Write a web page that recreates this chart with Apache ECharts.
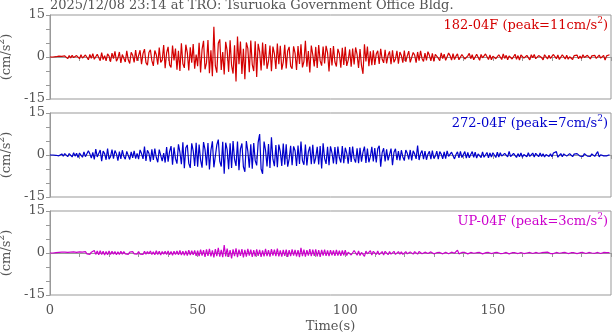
<!DOCTYPE html>
<html>
<head>
<meta charset="utf-8">
<script src="https://cdn.jsdelivr.net/npm/echarts@6/dist/echarts.min.js"></script>
<style>
  html, body { margin: 0; padding: 0; background: #fff; }
  #chart { width: 613px; height: 334px; }
</style>
</head>
<body>
<div id="chart"></div>
<script>
const TITLE = "2025/12/08 23:14 at TRO: Tsuruoka Government Office Bldg.";
const DT = 0.5; // seconds between samples

const channels = ["182-04F", "272-04F", "UP-04F"];
const peaks = [11, 7, 3];
const colors = ["#d40000", "#0000cc", "#cc00cc"];
const xTicks = [0, 50, 100, 150];
const yTicks = [-15, 0, 15];

// NS component (182), every 0.5 s
const ns182 = [
  0, 0, 0, 0, 0.1, -0.1, 0.3, -0.2, 0.2, -0.5, 0.4, 0.1, -0.6, 0.5, -0.3, 0.6, -0.2, -0.7, 0.5, 0.3,
  -0.6, 0.8, -0.4, -0.9, 0.7, 0.2, -1.0, 0.9, -0.5, 1.2, -0.8, -1.1, 1.0, 0.4, -1.3, 1.6, -0.9, 0.5, -1.4, 1.1,
  0.3, -1.7, 1.4, -0.6, 2.0, -1.5, -0.4, 1.8, -2.1, 0.9, 1.5, -1.8, 2.2, -1.0, -2.3, 1.7, 0.6, -1.9, 2.5, -1.4,
  -0.8, 2.4, -2.6, 1.2, 2.8, -2.0, -2.9, 1.6, 2.6, -1.3, -3.2, 2.3, 0.8, -2.7, 3.4, -1.9, -1.1, 4.3, -4.0, 1.5,
  3.6, -2.8, -3.7, 4.1, -1.2, 3.0, -4.5, 2.2, -5.0, 4.9, -2.4, -3.9, 4.4, 1.6, -4.8, 3.5, -2.0, 4.6, -4.2, 0.9,
  -3.3, 5.1, -5.5, 2.7, 5.8, -4.4, -2.1, 6.1, -5.8, 2.4, -6.9, 10.8, -3.2, -5.6, 4.9, 6.3, -4.6, 1.8, -6.2, 5.4,
  2.3, -5.3, 6.0, -3.1, -5.9, 4.2, -8.7, 7.3, -2.6, 5.5, -6.1, 2.9, -7.9, 5.2, 3.1, -5.4, 5.9, -2.7, -5.0, 5.6,
  -7.1, 4.7, 1.9, -4.8, 5.2, -3.0, 4.6, -4.2, -1.5, 4.1, -5.1, 3.7, 1.2, -4.3, 4.8, -2.6, 4.0, -4.5, -1.8, 4.4,
  -4.1, 2.2, 3.6, -3.3, -4.2, 3.8, 1.4, -4.6, 3.9, -2.5, 4.5, -3.7, -1.6, 5.8, -3.5, 2.1, -5.5, 4.1, 0.8, -3.4,
  3.6, -3.9, 4.3, -1.4, -3.1, 3.7, -2.3, 4.0, 1.6, -5.2, 3.2, -3.0, 3.9, -1.8, -3.4, 2.9, 1.2, -3.8, 3.3, -2.8,
  3.6, -3.2, -1.1, 2.7, -3.5, 3.0, -2.7, 3.4, 0.9, -3.9, 2.8, -3.1, -6.0, 4.5, -1.6, 3.7, -3.3, 2.0, -2.9, 2.4,
  -2.8, 1.1, 2.2, -2.5, 2.9, -0.8, -2.1, 2.6, -2.3, 0.6, 2.0, -2.6, 2.4, -1.9, -0.7, 2.2, -2.4, 1.8, 0.5, -2.0,
  2.3, -1.7, 0.4, 2.1, -1.9, -1.5, 1.6, 0.7, -2.0, 1.8, -1.3, 2.2, -0.5, -1.6, 1.4, -1.2, 1.9, 0.6, -1.4, 1.3,
  -1.6, 0.9, 1.2, -0.4, -1.3, 1.5, -0.6, 1.0, -1.2, -0.8, 1.4, 0.5, -1.1, 1.2, -0.9, 0.3, 1.1, -1.0, -0.5, 0.9,
  1.2, -0.7, -1.1, 0.4, 1.3, -0.6, 0.8, -1.0, -0.4, 1.0, 0.5, -1.2, 0.9, -0.3, -0.8, 1.1, 0.4, -0.9, 0.7, -1.0,
  0.3, 1.0, -0.6, -1.0, 0.8, 0.2, -0.9, 1.1, -0.5, 0.6, -1.0, 0.4, 0.9, -0.7, -0.3, 1.0, -0.8, 0.5, -1.1, 0.7,
  0.9, -0.4, -0.8, 0.6, 0.2, -1.0, 0.8, -0.3, 0.9, -0.6, -0.9, 0.5, 0.7, -0.2, -1.0, 0.8, 0.3, -0.7, 0.6, -0.5,
  -0.8, 0.9, 0.2, -0.6, 0.7, -0.9, -0.3, 0.8, 0.4, -0.7, 0.6, -0.8, 0.1, 0.7, -0.9, 0.5, -0.2, 0.7, -0.6, 0.3,
  -0.5, 0.8, -0.2, -0.6, 0.6, 0.3, -0.7, 0.4, -0.3, 0.6, -0.5, 0.2, 0.7, -0.4, -0.5, 0.6, -1.1, 0.4, 0.7, 0.8
];

// EW component (272)
const ew272 = [
  0, 0, 0, 0.1, -0.1, 0.2, -0.3, 0.1, 0.4, -0.4, 0.5, -0.2, -0.6, 0.5, 0.2, -0.7, 0.8, -0.4, 0.6, -0.9,
  0.7, 0.3, -0.8, 1.1, -0.6, -1.2, 1.5, 0.4, -1.1, 0.9, -1.6, 2.1, -0.7, -1.3, 1.8, -2.2, 1.4, 0.5, -1.7, 2.3,
  -1.5, -0.6, 1.9, -1.3, 1.6, 0.4, -2.0, 1.2, -1.4, 1.7, -0.5, -1.5, 1.3, 0.8, -1.6, 1.1, -1.0, 1.5, -1.3, 0.6,
  -1.5, 1.8, 0.5, -1.4, 3.0, -2.1, 1.7, 0.6, -2.4, 2.0, -1.8, 2.3, -0.9, -2.6, 1.9, 2.5, -2.2, 0.7, -2.7, 2.8,
  -2.4, 1.2, 3.2, -3.5, 2.7, -1.3, -3.1, 3.8, 1.0, -3.3, 4.5, -4.7, 2.6, 3.6, -3.0, -4.6, 4.2, 1.5, -3.9, 4.4,
  -4.2, 3.7, -1.8, -4.5, 4.6, 2.0, -3.7, 4.3, -5.2, 1.7, 4.9, -4.4, -5.0, 3.6, 5.5, -2.3, -4.1, 4.7, -6.7, 4.4,
  1.9, -5.1, 4.2, -4.6, 5.0, -1.6, -3.9, 4.8, -5.4, 2.2, 4.1, -4.2, -6.0, 5.0, 1.4, -4.5, 3.8, -4.9, 4.3, -2.0,
  -3.7, 4.5, 7.5, -5.0, -6.7, 4.8, 1.7, -4.1, 3.9, -4.6, 6.3, -1.5, -4.0, 3.6, -4.4, 3.7, 1.2, -3.9, 4.1, -3.5,
  3.8, -4.2, -1.4, 3.3, -3.6, 3.1, 1.5, -3.9, 3.4, -3.2, 4.8, -2.0, -3.5, 3.7, -3.7, 1.1, 3.0, -3.3, 3.6, -3.1,
  -0.9, 2.9, -3.4, 3.2, -4.8, 4.2, -1.2, -3.2, 2.9, -3.6, 3.1, 0.8, -3.0, 2.8, -3.3, 3.0, -1.0, -2.7, 3.2, -2.9,
  2.6, 0.7, -3.1, 2.8, -2.5, 3.0, -1.3, -2.7, 2.4, -2.9, 2.6, -2.4, 1.0, 3.0, -2.8, 2.3, -2.6, -0.6, 2.9, -2.3,
  2.5, -2.7, 2.2, 3.3, -4.2, 0.9, 2.4, -2.3, 2.0, -1.9, -2.1, 2.3, -3.6, 1.0, 2.2, -1.8, 1.4, -1.9, 1.7, -0.7,
  -2.0, 1.8, 0.6, -1.6, 1.8, -1.9, 1.5, 0.4, -1.4, 3.4, -1.8, 0.5, 1.6, -1.5, 1.4, -1.7, 0.3, 1.3, -1.5, 1.6,
  -1.2, -0.4, 1.4, -1.5, 1.2, 0.3, -1.4, 1.1, -1.3, 1.5, -0.5, -1.2, 1.0, 1.2, -1.4, 0.2, 1.1, -1.0, 1.3, -0.9,
  -0.3, 1.2, -1.1, 0.9, -1.0, 0.2, 1.2, -0.8, 1.0, -1.1, 0.4, 0.8, -0.9, 1.1, -0.8, -0.3, 0.9, -1.0, 0.7, -0.7,
  0.8, 0.2, -0.9, 1.0, -0.7, 0.8, -0.4, -0.8, 0.6, 0.9, -0.7, 1.3, -0.6, -0.8, 0.6, 0.7, -0.9, 0.5, -0.6, 0.7,
  -0.8, 0.2, 0.7, -0.6, 0.8, -0.5, -0.2, 0.7, -0.7, 0.6, 0.3, -0.6, 0.7, -0.5, 0.4, -0.7, 0.2, 0.6, -0.5, 0.4,
  -0.6, 0.7, 0.3, 1.2, -0.8, -0.3, 0.5, -0.6, 0.4, 0.6, -0.4, -0.5, 0.5, 0.4, -0.6, 0.3, -0.4, 0.5, 0.2, -0.4,
  0.3, -0.5, 0.5, 0.1, -0.4, 0.3, -0.5, 0.4, 0.2, -0.5, 0.4, 1.2, -0.7, 0.1, 0.4, -0.3, 0.2, -0.3, 0.2, 0.1
];

// vertical component
const ud = [
  0, 0, 0, 0, 0.1, -0.1, 0.2, -0.2, 0.3, -0.2, 0.3, -0.3, 0.2, -0.4, 0.3, -0.2, 0.4, -0.3, 0.2, -0.3,
  0.4, -0.3, 0.3, -0.4, 0.5, -0.3, 0.4, -0.5, 0.3, -0.4, 0.9, -0.5, 0.7, -0.6, 0.8, -0.5, 0.6, -0.7, 0.5, -0.6,
  0.7, -0.5, 0.6, -0.4, 0.5, -0.6, 0.4, -0.5, 0.6, -0.4, 0.5, -0.3, 0.4, -0.5, 0.3, -0.4, 0.5, -0.3, 0.4, -0.4,
  0.5, -0.4, 0.3, -0.5, 0.6, -0.4, 0.5, -0.3, 0.7, -0.5, 0.4, -0.6, 0.8, -0.5, 0.6, -0.7, 0.5, -0.4, 0.6, -0.5,
  0.7, -0.6, 0.5, -0.8, 0.6, -0.5, 0.7, -0.6, 0.9, -0.7, 0.6, -0.8, 0.7, -0.9, 1.0, -0.7, 0.8, -0.6, 0.9, -1.0,
  0.8, -1.1, 1.2, -0.9, 1.0, -1.4, 1.3, -1.0, 1.5, -1.2, 0.9, -1.6, 1.4, -1.1, 1.8, -1.3, 1.1, -1.5, 2.8, -1.2,
  1.6, -1.4, 1.0, -1.9, 1.3, -1.1, 1.7, -1.5, 1.2, -1.0, 1.4, -1.6, 1.1, -1.3, 1.5, -0.9, 1.2, -1.4, 1.0, -1.2,
  1.3, -1.0, 1.1, -1.4, 0.9, -1.2, 1.5, -1.1, 1.0, -1.3, 1.4, -0.9, 1.2, -1.1, 1.6, -1.2, 0.9, -1.3, 1.1, -1.0,
  1.2, -1.4, 1.0, -1.1, 1.3, -0.9, 1.1, -1.2, 1.0, -1.5, 1.8, -1.1, 1.2, -1.3, 1.0, -0.9, 1.4, -1.1, 1.2, -1.0,
  1.3, -1.2, 1.0, -1.4, 1.1, -0.9, 1.2, -1.0, 0.9, -1.1, 1.0, -0.8, 0.9, -1.0, 1.1, -0.9, 0.8, -1.0, 0.9, -0.8,
  1.0, -0.9, 0.3, 0.8, -0.7, -1.0, 0.9, 0.4, -0.8, 0.7, -0.9, 0.2, 0.8, -1.2, 0.7, -0.3, -0.6, 0.8, -0.7, 0.6,
  0.3, -0.5, 0.7, -0.6, -0.2, 0.5, -0.7, 0.6, 0.2, -0.6, 0.5, -0.4, 0.1, 0.6, -0.5, -0.2, 0.5, -0.4, 0.4, -0.5,
  0.2, 0.5, -0.3, -0.5, 0.4, 0.1, -0.4, 0.5, -0.2, -0.4, 0.5, 0.2, -0.3, -0.4, 0.3, 0.4, -0.2, -0.3, 0.4, 0.1,
  -0.3, 0.3, 0.1, -0.4, 0.2, 0.3, -0.3, -0.2, 0.3, 0.1, -0.3, 0.2, 0.3, -0.2, -0.1, 0.4, 1.0, -0.3, 0.1, 0.2,
  -0.2, 0.2, 0.1, -0.3, 0.1, 0.2, -0.2, -0.1, 0.3, 0.1, -0.2, 0.2, 0.0, -0.3, 0.2, 0.1, -0.2, 0.2, -0.1, -0.2,
  0.2, 0.1, -0.3, 0.2, 0.0, -0.2, 0.3, -0.1, -0.2, 0.2, 0.1, -0.3, 0.2, 0.1, -0.2, 0.1, 0.2, -0.2, -0.1, 0.2,
  0.1, -0.2, 0.2, 0.0, -0.3, 0.2, 0.1, -0.2, 0.1, 0.2, -0.2, -0.1, 0.2, 0.1, -0.2, 0.2, -0.1, 0.3, 0.0, -0.2,
  0.4, -0.2, 0.1, 0.2, -0.2, -0.1, 0.2, 0.1, -0.2, 0.2, 0.0, -0.2, 0.2, 0.1, -0.2, 0.1, 0.2, -0.2, 0.0, 0.1,
  -0.2, 0.2, 0.1, -0.2, 0.1, 0.2, -0.2, 0.0, 0.2, -0.1, -0.2, 0.2, 0.1, -0.2, 0.1, 0.2, -0.2, 0.1, 0.2, 0.1
];

const traces = [ns182, ew272, ud];

const FONT = "'DejaVu Serif', 'Liberation Serif', serif";
const FS = 13;
const TEXT = "#555";
const FRAME = "#999";
const GRID_TOPS = [15, 113, 211];
const GRID_H = 84;

const supRich = (size, color) => ({
  a: { fontSize: size, fontFamily: FONT, fontWeight: "normal", color, lineHeight: size + 3, verticalAlign: "bottom" },
  s: { fontSize: size - 4, fontFamily: FONT, fontWeight: "normal", color, lineHeight: size - 3, verticalAlign: "top" },
});

const grids = GRID_TOPS.map((top) => ({
  left: 50, right: 2, top, height: GRID_H,
  show: true, borderColor: FRAME, borderWidth: 1,
  containLabel: false, outerBoundsMode: "none",
}));

const xAxes = GRID_TOPS.map((_, i) => ({
  type: "value", gridIndex: i, min: 0, max: 190, interval: 10,
  axisLine: { show: true, lineStyle: { color: FRAME } },
  axisTick: { show: true, length: 4, inside: false, lineStyle: { color: FRAME } },
  axisLabel: {
    show: i === 2,
    color: TEXT, fontFamily: FONT, fontSize: FS, margin: 9,
    formatter: (v) => (xTicks.includes(v) ? String(v) : ""),
  },
  splitLine: { show: false },
  name: i === 2 ? "Time(s)" : "",
  nameLocation: "middle", nameGap: 25,
  nameTextStyle: { color: TEXT, fontFamily: FONT, fontSize: FS },
}));

const yAxes = GRID_TOPS.map((_, i) => ({
  type: "value", gridIndex: i, min: -15, max: 15, interval: 5,
  axisLine: { show: true, lineStyle: { color: FRAME } },
  axisTick: { show: true, length: 4, lineStyle: { color: FRAME } },
  axisLabel: {
    color: TEXT, fontFamily: FONT, fontSize: FS, margin: 5,
    showMinLabel: true, showMaxLabel: true,
    formatter: (v) => (yTicks.includes(v) ? String(v) : ""),
  },
  splitLine: { show: false },
  name: "{a|(cm/s}{s|2}{a|)}",
  nameLocation: "middle", nameRotate: 90, nameGap: 28,
  nameTextStyle: { rich: supRich(FS, TEXT) },
}));

const titles = [
  {
    text: TITLE, left: 50, top: -1, padding: 0,
    textStyle: { color: TEXT, fontFamily: FONT, fontSize: FS, fontWeight: "normal" },
  },
  ...channels.map((ch, i) => ({
    text: `{a|${ch} (peak=${peaks[i]}cm/s}{s|2}{a|)}`,
    right: 5, top: GRID_TOPS[i] + 1, padding: 0,
    textStyle: { rich: supRich(FS, colors[i]) },
  })),
];

const series = traces.map((vals, i) => ({
  type: "line",
  xAxisIndex: i, yAxisIndex: i,
  data: vals.map((v, k) => [k * DT, v]),
  showSymbol: false,
  silent: true,
  lineStyle: { color: colors[i], width: 1.2 },
}));

const chart = echarts.init(document.getElementById("chart"), null, { renderer: "canvas" });
chart.setOption({
  animation: false,
  backgroundColor: "#fff",
  title: titles,
  grid: grids,
  xAxis: xAxes,
  yAxis: yAxes,
  series,
});
</script>
</body>
</html>
